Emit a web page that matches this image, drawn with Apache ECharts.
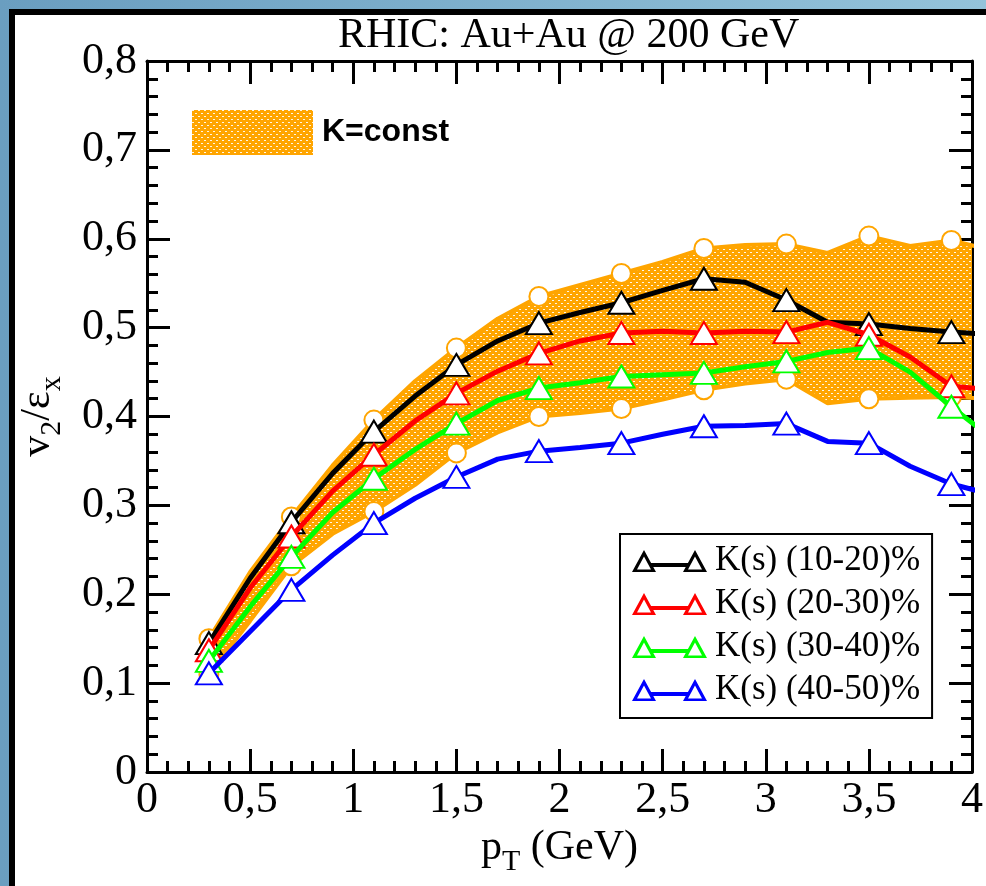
<!DOCTYPE html>
<html><head><meta charset="utf-8">
<script src="https://cdn.jsdelivr.net/npm/echarts@6/dist/echarts.min.js"></script>
<style>
html,body{margin:0;padding:0;width:986px;height:886px;overflow:hidden;}
body{background:linear-gradient(to right,#6a9ec0,#94c3da);position:relative;}
#panel{position:absolute;left:9px;top:9px;width:1000px;height:900px;border-left:6px solid #000;border-top:6px solid #000;background:#fff;}
#chart{position:absolute;left:0;top:0;width:986px;height:886px;}
</style></head><body><div id="panel"></div><div id="chart"></div>
<script>
// ---- data ----
const pT = [0.3,0.5,0.7,0.9,1.1,1.3,1.5,1.7,1.9,2.1,2.3,2.5,2.7,2.9,3.1,3.3,3.5,3.7,3.9,4.1];
const k1020 = [0.145,0.218,0.281,0.336,0.383,0.423,0.458,0.485,0.505,0.517,0.528,0.542,0.555,0.551,0.531,0.506,0.504,0.499,0.495,0.492];
const k2030 = [0.137,0.207,0.265,0.316,0.357,0.395,0.426,0.451,0.471,0.485,0.494,0.496,0.494,0.496,0.495,0.506,0.492,0.467,0.434,0.430];
const k3040 = [0.125,0.186,0.242,0.292,0.330,0.363,0.392,0.418,0.432,0.438,0.445,0.447,0.449,0.456,0.462,0.472,0.477,0.450,0.411,0.375];
const k4050 = [0.111,0.158,0.205,0.244,0.280,0.308,0.332,0.352,0.361,0.365,0.370,0.380,0.389,0.390,0.392,0.372,0.370,0.344,0.324,0.312];
const bandUpper = [0.150,0.225,0.287,0.345,0.396,0.440,0.477,0.510,0.535,0.548,0.561,0.574,0.589,0.593,0.594,0.584,0.603,0.592,0.598,0.587];
const bandLower = [0.110,0.170,0.232,0.268,0.293,0.323,0.359,0.382,0.400,0.404,0.409,0.419,0.430,0.437,0.442,0.415,0.420,0.421,0.422,0.420];
const seriesNames = ['K(s) (10-20)%','K(s) (20-30)%','K(s) (30-40)%','K(s) (40-50)%'];
const bandName = 'K=const';
const titleText = 'RHIC: Au+Au @ 200 GeV';
const xTickInterval = 0.5, yTickInterval = 0.1;

// ---- style ----
const colors = ['#000000','#ff0000','#00ff00','#0000ff'];
const orange = '#ffa500';
const serif = 'Liberation Serif';

const pc = document.createElement('canvas');
pc.width = 6; pc.height = 6;
const g = pc.getContext('2d');
g.fillStyle = orange; g.fillRect(0,0,6,6);
g.fillStyle = 'rgba(255,255,255,0.9)';
g.fillRect(0,0,2,1); g.fillRect(3,3,2,1);
const pattern = {image: pc, repeat: 'repeat'};

function linePts(ys, sym){
  return pT.map((x,i)=>({value:[x, ys[i]], symbol: i%2===0 ? sym : 'none'}));
}
const fmt = v => String(Number(v.toFixed(2))).replace('.', ',');

const tickCommon = {
  axisLine:{show:true, onZero:false, lineStyle:{color:'#000', width:3}},
  axisTick:{show:true, inside:true, length:23, lineStyle:{color:'#000', width:3}},
  minorTick:{show:true, splitNumber:5, length:11, lineStyle:{color:'#000', width:3}},
  splitLine:{show:false}, minorSplitLine:{show:false}
};
const triIcon = 'path://M0,22L12,0L24,22ZM5,19.5L19,19.5L12,6.5ZM19,13L56,13L56,17L19,17ZM51,22L63,0L75,22ZM56,19.5L70,19.5L63,6.5Z';

const lineSeries = [k1020,k2030,k3040,k4050].map((ys,k)=>({
  type:'line', name: seriesNames[k], data: linePts(ys,'emptyTriangle'),
  symbolSize:[26,22], lineStyle:{color:colors[k], width:5},
  itemStyle:{color:colors[k], borderWidth:3.5}, z:5+k, clip:true,
  emphasis:{disabled:true}, animation:false
}));

const option = {
  animation:false,
  textStyle:{fontFamily: serif},
  title:{text: titleText, left: 333, top: 10,
    textStyle:{fontFamily: serif, fontSize:42, fontWeight:'normal', color:'#000'}},
  grid:{left:147, right:10, top:61, bottom:114, containLabel:false},
  legend:[
    {data:[{name: bandName, icon:'rect', itemStyle:{color: pattern, borderWidth:0}}],
     left:192, top:110, itemWidth:121, itemHeight:45, padding:0, selectedMode:false,
     textStyle:{fontFamily:'Liberation Sans', fontWeight:'bold', fontSize:32, color:'#000', padding:[0,0,0,4]}},
    {data: seriesNames.map((n,k)=>({name:n, icon: triIcon, itemStyle:{color:colors[k], borderWidth:0}})),
     left:620, top:534, orient:'vertical', itemWidth:75, itemHeight:22, itemGap:7,
     padding:[9,12,10,12], borderColor:'#000', borderWidth:2, backgroundColor:'#fff', selectedMode:false,
     textStyle:{fontFamily: serif, fontSize:35, lineHeight:36, color:'#000', padding:[0,0,0,3]}}
  ],
  xAxis:[
    Object.assign({type:'value', min:0, max:4, interval:xTickInterval, position:'bottom',
      name:'{a|p}{b|T}{a| (GeV)}', nameLocation:'middle', nameGap:44,
      nameTextStyle:{rich:{a:{fontFamily:serif, fontSize:42, lineHeight:44, color:'#000', verticalAlign:'top'},
                           b:{fontFamily:serif, fontSize:30, padding:[20,0,0,0], color:'#000', verticalAlign:'top'}}},
      axisLabel:{fontFamily:serif, fontSize:44, color:'#000', margin:6, formatter: fmt}}, tickCommon),
    Object.assign({type:'value', min:0, max:4, interval:xTickInterval, position:'top',
      axisLabel:{show:false}}, tickCommon)
  ],
  yAxis:[
    Object.assign({type:'value', min:0, max:0.8, interval:yTickInterval, position:'left',
      name:'{a|v}{b|2}{a|/ε}{b|x}', nameLocation:'middle', nameGap:80, nameRotate:90,
      nameTextStyle:{rich:{a:{fontFamily:serif, fontSize:42, lineHeight:44, color:'#000', verticalAlign:'top'},
                           b:{fontFamily:serif, fontSize:30, padding:[20,0,0,0], color:'#000', verticalAlign:'top'}}},
      axisLabel:{fontFamily:serif, fontSize:44, color:'#000', margin:10, formatter: fmt}}, tickCommon),
    Object.assign({type:'value', min:0, max:0.8, interval:yTickInterval, position:'right',
      axisLabel:{show:false}}, tickCommon)
  ],
  series:[
    {type:'custom', name: bandName, z:1, clip:true, animation:false, silent:true,
     data:[[pT[0], bandLower[0]]],
     itemStyle:{color: orange},
     renderItem:function(params, api){
       const up = pT.map((x,i)=>api.coord([x, bandUpper[i]]));
       const lo = pT.map((x,i)=>api.coord([x, bandLower[i]])).reverse();
       return {type:'polygon', shape:{points: up.concat(lo)}, style:{fill: pattern, stroke:'none'}};
     }},
    {type:'line', name:'upper', data: linePts(bandUpper,'emptyCircle'), symbolSize:19,
     lineStyle:{color:orange, width:4}, itemStyle:{color:orange, borderWidth:3}, z:2, clip:true,
     emphasis:{disabled:true}, animation:false},
    {type:'line', name:'lower', data: linePts(bandLower,'emptyCircle'), symbolSize:19,
     lineStyle:{color:orange, width:4}, itemStyle:{color:orange, borderWidth:3}, z:3, clip:true,
     emphasis:{disabled:true}, animation:false}
  ].concat(lineSeries)
};
const chart = echarts.init(document.getElementById('chart'), null, {renderer:'canvas'});
chart.setOption(option);
</script></body></html>
